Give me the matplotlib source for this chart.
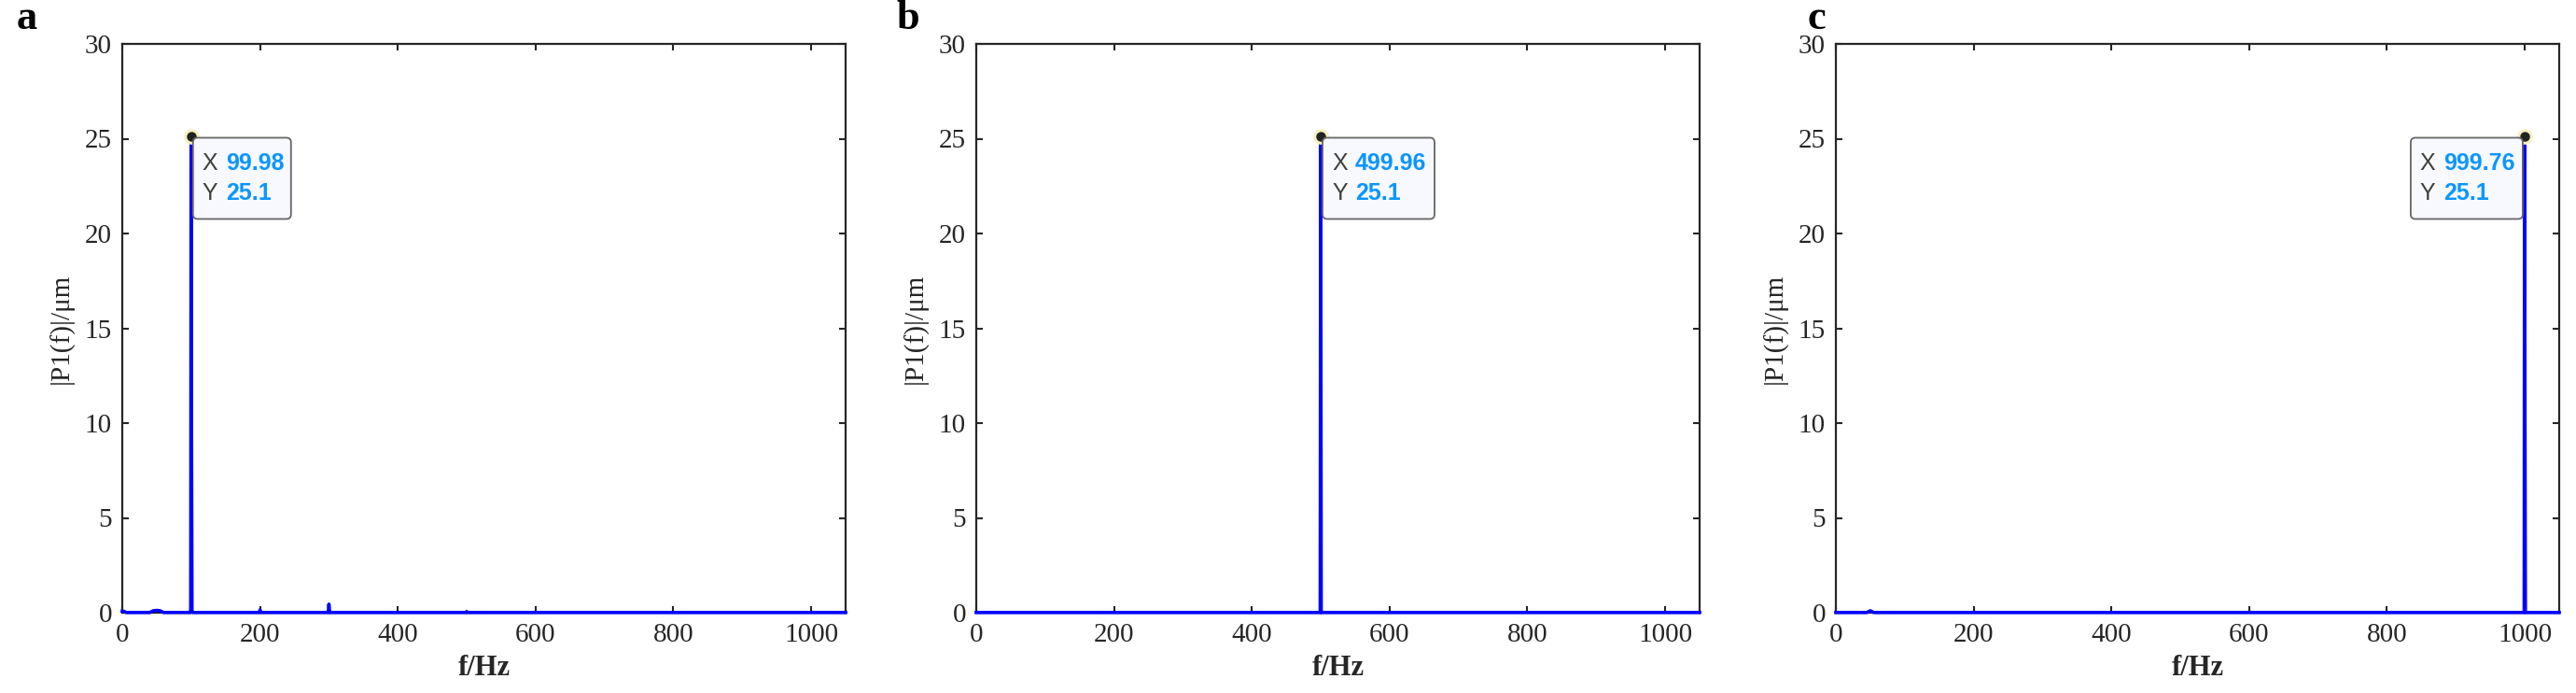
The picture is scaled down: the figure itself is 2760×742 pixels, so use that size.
import matplotlib
matplotlib.use('Agg')
import matplotlib.pyplot as plt
from matplotlib.patches import FancyBboxPatch

plt.rcParams['font.family'] = ['Liberation Serif', 'DejaVu Serif']

# spectra (f in Hz, |P1(f)| in um)
freq_a = [0, 3, 6, 40, 45, 50, 55, 60, 98.8, 99.4, 99.98, 100.5, 101.2, 102, 199, 200, 201,
          299, 300, 301, 499, 500, 501, 1050]
amp_a = [0.08, 0.06, 0.01, 0.01, 0.1, 0.12, 0.1, 0.01, 0.01, 0.2, 25.1, 9.5, 0.1, 0.01, 0.01, 0.15, 0.01,
         0.01, 0.45, 0.01, 0.01, 0.06, 0.01, 0.01]

freq_b = [0, 499.3, 499.8, 499.96, 500.2, 500.7, 1050]
amp_b = [0.01, 0.01, 19.4, 25.1, 16.4, 0.01, 0.01]

freq_c = [0, 45, 50, 55, 999.2, 999.76, 1000.3, 1000.9, 1050]
amp_c = [0.01, 0.01, 0.1, 0.01, 0.01, 25.1, 10.0, 0.01, 0.01]

tips = [(99.98, 25.1, '99.98'), (499.96, 25.1, '499.96'), (999.76, 25.1, '999.76')]
letters = ['a', 'b', 'c']

xticks = [0, 200, 400, 600, 800, 1000]
yticks = [0, 5, 10, 15, 20, 25, 30]

fig = plt.figure(figsize=(27.6, 7.42), dpi=100)
lefts = [131, 1046, 1967]
letter_x = [18, 960, 1936]
axw, axb, axh = 775 / 2760, 86 / 742, 609 / 742

data = [(freq_a, amp_a), (freq_b, amp_b), (freq_c, amp_c)]
for i in range(3):
    ax = fig.add_axes([lefts[i] / 2760, axb, axw, axh])
    f, a = data[i]
    ax.plot(f, a, color='#0000ff', lw=2.6, zorder=3, clip_on=False)
    ax.set_xlim(0, 1050)
    ax.set_ylim(0, 30)
    ax.set_xticks(xticks)
    ax.set_yticks(yticks)
    ax.tick_params(direction='in', length=5, width=1.5, top=True, right=True,
                   labelsize=21, colors='#262626', pad=8)
    for s in ax.spines.values():
        s.set_linewidth(1.6)
        s.set_color('#262626')
    ax.set_xlabel('f/Hz', fontsize=22, fontweight='bold', color='#262626', labelpad=6)
    ax.set_ylabel('|P1(f)|/μm', fontsize=21, color='#262626', labelpad=8)
    fig.text(letter_x[i] / 2760, 1 - 20 / 742, letters[i], fontsize=32, fontweight='bold',
             ha='left', va='center')

    # data tip
    tx, ty, lab = tips[i]
    ax.plot([tx], [ty], 'o', ms=11, color='#f5f0c0', zorder=5, clip_on=False)
    ax.plot([tx], [ty], 'o', ms=6.5, color='#222222', zorder=6, clip_on=False)
    w = 105 if i == 0 else 120
    dx = 2 if i < 2 else -w - 2
    px, py = ax.transData.transform((tx, ty))
    box = FancyBboxPatch((px + dx, py - 1 - 87), w, 87,
                         boxstyle='round,pad=0,rounding_size=5', transform=None,
                         fc='#f8f8ff', ec='#666666', lw=1.3, zorder=7, clip_on=False)
    fig.patches.append(box)
    for j, (k, v) in enumerate([('X', lab), ('Y', '25.1')]):
        yy = py - 1 - 28 - 32 * j
        fig.text((px + dx + 10) / 2760, yy / 742, k, fontsize=18, family='Liberation Sans',
                 color='#404040', ha='left', va='center', zorder=8)
        fig.text((px + dx + 35) / 2760, yy / 742, v, fontsize=18, family='Liberation Sans',
                 fontweight='bold', color='#0a96ff', ha='left', va='center', zorder=8)

fig.savefig('out.png', dpi=100)
